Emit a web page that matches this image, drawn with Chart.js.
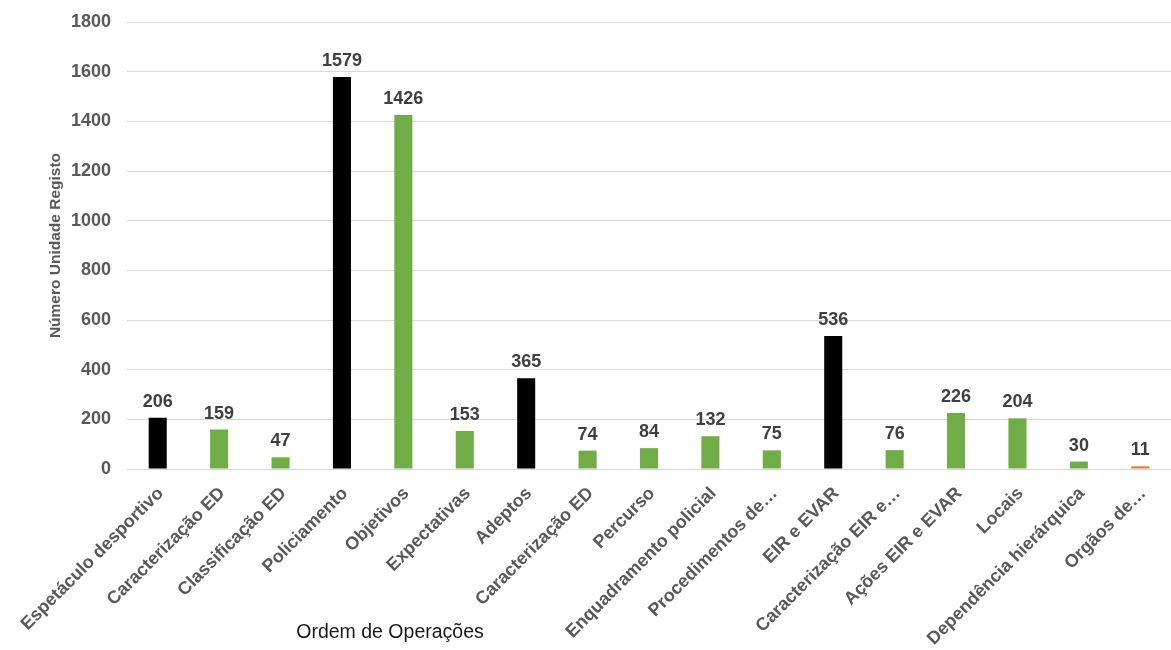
<!DOCTYPE html>
<html>
<head>
<meta charset="utf-8">
<script src="https://cdn.jsdelivr.net/npm/chart.js@4.4.1/dist/chart.umd.min.js"></script>
<style>
  html, body { margin: 0; padding: 0; background: #ffffff; }
  #wrap { width: 1171px; height: 650px; position: relative; }
</style>
</head>
<body>
<div id="wrap"><canvas id="chart" width="1171" height="650"></canvas></div>
<script>
// Categorias do eixo X
const categories = [
  'Espetáculo desportivo', 'Caracterização ED', 'Classificação ED', 'Policiamento',
  'Objetivos', 'Expectativas', 'Adeptos', 'Caracterização ED', 'Percurso',
  'Enquadramento policial', 'Procedimentos de…', 'EIR e EVAR', 'Caracterização EIR e…',
  'Ações EIR e EVAR', 'Locais', 'Dependência hierárquica', 'Orgãos de…'
];
// Número de unidades de registo por categoria
const counts = [206, 159, 47, 1579, 1426, 153, 365, 74, 84, 132, 75, 536, 76, 226, 204, 30, 11];
// Nível de cada categoria: 'top' = categoria principal, 'sub' = subcategoria, 'other'
const levels = ['top', 'sub', 'sub', 'top', 'sub', 'sub', 'top', 'sub', 'sub', 'sub', 'sub', 'top', 'sub', 'sub', 'sub', 'sub', 'other'];
const yTicks = [0, 200, 400, 600, 800, 1000, 1200, 1400, 1600, 1800];

const levelColors = { top: '#000000', sub: '#70AD47', other: '#ED7D31' };
const barColors = levels.map(l => levelColors[l]);

// Rótulos de valor por cima das barras
const valueLabels = {
  id: 'valueLabels',
  afterDatasetsDraw(chart) {
    const ctx = chart.ctx;
    const meta = chart.getDatasetMeta(0);
    ctx.save();
    ctx.font = 'bold 18px "Liberation Sans", Arial, sans-serif';
    ctx.fillStyle = '#404040';
    ctx.textAlign = 'center';
    ctx.textBaseline = 'alphabetic';
    meta.data.forEach((bar, i) => {
      ctx.fillText(String(counts[i]), bar.x, bar.y - 11);
    });
    ctx.restore();
  }
};

// Título do eixo X
const xTitle = {
  id: 'xTitle',
  afterDraw(chart) {
    const ctx = chart.ctx;
    ctx.save();
    ctx.font = '19.5px "Liberation Sans", Arial, sans-serif';
    ctx.fillStyle = '#1a1a1a';
    ctx.textAlign = 'center';
    ctx.textBaseline = 'middle';
    ctx.fillText('Ordem de Operações', 390, 633);
    ctx.restore();
  }
};

new Chart(document.getElementById('chart'), {
  type: 'bar',
  data: {
    labels: categories,
    datasets: [{
      data: counts,
      backgroundColor: barColors,
      borderWidth: 0,
      barPercentage: 0.6,
      categoryPercentage: 0.49
    }]
  },
  options: {
    responsive: false,
    animation: false,
    devicePixelRatio: 1,
    layout: { padding: { left: 42, right: 0, top: 22, bottom: 0 } },
    plugins: {
      legend: { display: false },
      tooltip: { enabled: false }
    },
    scales: {
      x: {
        grid: { display: false, drawTicks: false },
        border: { display: false },
        ticks: {
          autoSkip: false,
          maxRotation: 45,
          minRotation: 45,
          padding: 14,
          labelOffset: 3,
          color: '#595959',
          font: { family: '"Liberation Sans", Arial, sans-serif', size: 18, weight: 'bold' }
        },
        afterFit(scale) { scale.height = 181; }
      },
      y: {
        min: 0,
        max: 1800,
        afterBuildTicks(scale) { scale.ticks = yTicks.map(v => ({ value: v })); },
        grid: { color: '#d9d9d9', lineWidth: 1, drawTicks: false },
        border: { display: false },
        ticks: {
          padding: 16,
          color: '#595959',
          callback: (v) => String(v),
          font: { family: '"Liberation Sans", Arial, sans-serif', size: 18, weight: 'bold' }
        },
        title: {
          display: true,
          text: 'Número Unidade Registo',
          color: '#595959',
          padding: { top: 4, bottom: 4 },
          font: { family: '"Liberation Sans", Arial, sans-serif', size: 15.5, weight: 'bold' }
        },
        afterFit(scale) {
          scale.width = 85;
          scale.paddingTop = 0;
          scale.paddingBottom = 0;
        }
      }
    }
  },
  plugins: [valueLabels, xTitle]
});
</script>
</body>
</html>
